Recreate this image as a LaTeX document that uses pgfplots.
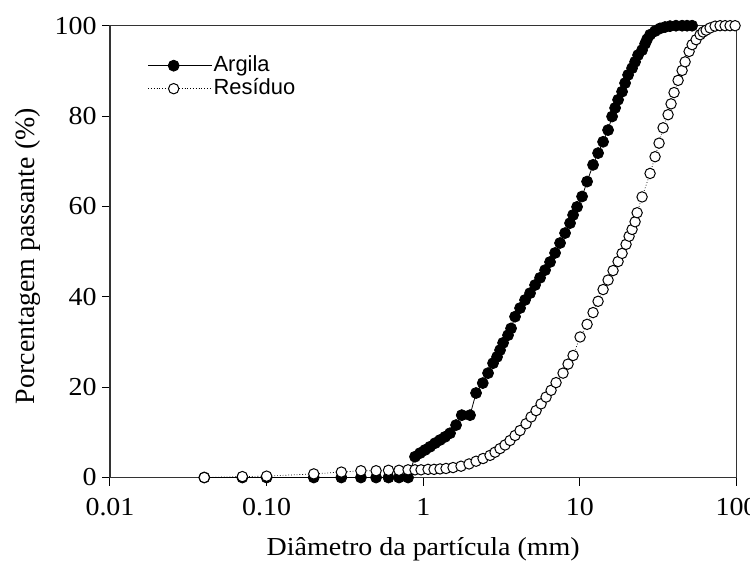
\documentclass[border=0pt]{standalone}
\usepackage{fontspec}
\setmainfont{Liberation Serif}[FakeStretch=1.08]
\newfontfamily\ylabfont{Liberation Serif}
\newfontfamily\legfont{Liberation Sans}
\usepackage{pgfplots}
\usepackage{pgfplotstable}
\pgfplotsset{compat=1.18}

\pgfplotstableread{
x y
0.04 0
0.07 0
0.1 0
0.2 0
0.3 0
0.4 0
0.5 0
0.6 0
0.7 0
0.8 0
0.886 4.6
0.954 5.4
1.027 6.1
1.105 6.8
1.190 7.6
1.280 8.3
1.378 9.0
1.483 9.8
1.620 11.6
1.762 13.8
1.990 13.8
2.174 18.7
2.399 20.9
2.593 23.1
2.791 25.3
2.960 26.7
3.093 28.2
3.234 29.8
3.479 31.5
3.636 33.0
3.857 35.6
4.151 37.5
4.467 39.3
4.808 40.8
5.175 42.6
5.570 44.2
5.996 45.9
6.453 47.7
6.945 49.7
7.474 51.9
8.044 54.1
8.658 56.3
9.050 58.1
9.597 59.9
10.33 62.2
11.12 65.5
12.14 69.2
13.07 71.8
14.07 74.3
15.14 76.9
16.06 79.9
16.79 81.8
17.54 83.6
18.60 85.4
19.44 87.3
20.32 89.1
21.54 90.6
22.52 92.0
23.53 93.5
24.96 94.6
26.09 96.0
26.87 97.0
28.07 98.0
30.21 98.8
32.51 99.4
34.95 99.7
37.61 99.9
41.08 100
44.96 100
48.35 100
52.07 100
}\argila

\pgfplotstableread{
x y
0.04 0.0
0.07 0.2
0.1 0.3
0.2 0.8
0.3 1.2
0.4 1.5
0.5 1.5
0.6 1.6
0.7 1.6
0.8 1.7
0.886 1.7
0.968 1.7
1.073 1.8
1.172 1.8
1.280 1.9
1.398 2.0
1.550 2.2
1.743 2.5
1.961 3.0
2.174 3.6
2.409 4.2
2.671 4.9
2.874 5.6
3.093 6.4
3.329 7.2
3.584 8.2
3.857 9.3
4.151 10.4
4.533 11.9
4.880 13.4
5.253 14.8
5.652 16.3
6.085 17.8
6.550 19.3
7.047 21.0
7.810 23.1
8.406 25.1
9.050 27.0
10.03 31.1
11.12 33.9
12.14 36.5
13.07 39.0
14.07 41.6
15.14 43.7
16.29 45.8
17.54 47.8
18.60 49.6
19.72 51.6
20.62 53.4
21.54 54.9
22.52 56.6
23.20 58.6
24.96 62.1
28.07 67.3
30.21 71.0
32.04 74.0
33.99 77.4
36.58 80.3
38.22 82.7
39.94 85.2
42.38 87.9
44.96 90.1
46.97 92.0
49.82 94.3
52.07 95.8
55.21 96.9
58.56 98.0
61.19 98.6
63.95 99.0
67.83 99.5
73.01 99.9
78.57 100
84.56 100
91.0 100
97.95 100
}\residuo

\begin{document}
\begin{tikzpicture}
\useasboundingbox (0bp,0bp) rectangle (750bp,568bp);
\begin{axis}[
  at={(110bp,90.5bp)}, anchor=south west,
  scale only axis, width=626.5bp, height=451.8bp,
  xmode=log, log basis x=10,
  xmin=0.01, xmax=100, ymin=0, ymax=100,
  xtick={0.01,0.1,1,10,100}, xticklabels={0.01,0.10,1,10,100},
  ytick={0,20,40,60,80,100}, yticklabels={0,20,40,60,80,100},
  xtick pos=bottom, ytick pos=left,
  tick align=outside,
  major tick length=8bp, minor tick length=8bp,
  tick style={black, line width=1bp},
  axis line style={black!80, line width=1.2bp},
  xticklabel style={font=\fontsize{26}{28}\selectfont, yshift=-9bp},
  yticklabel style={font=\fontsize{26}{28}\selectfont, xshift=-2bp},
  xlabel={Diâmetro da partícula (mm)},
  ylabel={Porcentagem passante (\%)},
  xlabel style={font=\fontsize{26}{28}\selectfont, at={(axis description cs:0.5,-0.158)}, anchor=center},
  ylabel style={font=\ylabfont\fontsize{28}{30}\selectfont, at={(axis description cs:-0.131,0.49)}, anchor=center},
  clip=false,
  legend style={at={(axis description cs:0.060,0.9374)}, anchor=north west, draw=none, fill=none,
    font=\legfont\fontsize{22}{24}\selectfont, inner sep=0pt, row sep=0pt,
    nodes={inner sep=1bp, text height=16bp, text depth=5bp}},
  legend cell align=left,
  legend image code/.code={
    \path (0bp,0bp) -- (64bp,0bp);
    \draw[mark repeat=2,mark phase=2,#1] plot coordinates {(0bp,0bp) (25.5bp,0bp) (51bp,0bp)};
  },
]
\addplot[black, line width=0.8bp, mark=*, mark size=5.5bp, mark options={solid, fill=black, draw=black}] table[x=x,y=y] {\argila};
\addlegendentry{Argila}
\addplot[black, line width=0.7bp, dash pattern=on 0.8bp off 2bp, mark=*, mark size=5.2bp, mark options={solid, fill=white, draw=black, line width=1bp}] table[x=x,y=y] {\residuo};
\addlegendentry{Resíduo}
\end{axis}
\end{tikzpicture}
\end{document}
